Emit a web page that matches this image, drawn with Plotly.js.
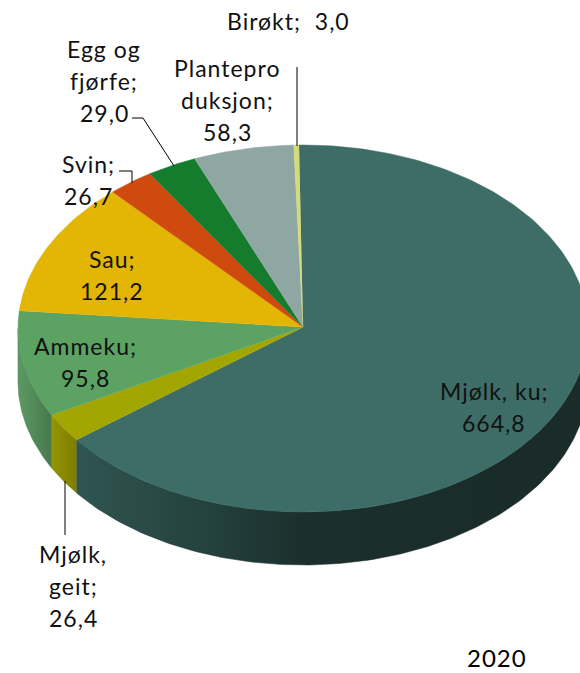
<!DOCTYPE html>
<html>
<head>
<meta charset="utf-8">
<script src="https://cdn.plot.ly/plotly-3.0.1.min.js"></script>
<style>
    html, body { margin: 0; padding: 0; background: #fff; }
    text.annotation-text { letter-spacing: 1px; }
</style>
</head>
<body>
<div id="tester"></div>
<script>
// verdier i samme rekkefolge som sektorene, med klokka fra kl. 12
let categories = ['Mjølk, ku', 'Mjølk, geit', 'Ammeku', 'Sau', 'Svin', 'Egg og fjørfe', 'Planteproduksjon', 'Birøkt'];
let values = [664.8, 26.4, 95.8, 121.2, 26.7, 29.0, 58.3, 3.0];
let topColors = ['#3d6d66', '#a3a600', '#5ba263', '#e3b505', '#cf4a0e', '#147c2c', '#8fa7a2', '#d4d97a'];

// sideflaten, bare de tre sektorene som vender mot oss
let wallScales = {
    'Mjølk, ku': [[0, '#305552'], [0.25, '#24423e'], [0.45, '#1b2f2c'], [1, '#1a2b28']],
    'Mjølk, geit': [[0, '#959500'], [1, '#7d7d00']],
    'Ammeku': [[0, '#5c9a64'], [1, '#47784e']]
};

let labelLines = [
    ['Birøkt;  3,0'],
    ['Egg og', 'fjørfe;', '29,0'],
    ['Plantepro', 'duksjon;', '58,3'],
    ['Svin;', '26,7'],
    ['Sau;', '121,2'],
    ['Ammeku;', '95,8'],
    ['Mjølk, ku;', '664,8'],
    ['Mjølk,', 'geit;', '26,4']
];
let labelX = [288, 104, 227, 88, 112, 85, 494, 73];
let labelY = [21, 49, 68, 164, 259, 346, 391, 554];
let lineGap = 32;

let cx = 303, cy = 328.5, apexY = 327, rx = 285, ry = 183.5, depth = 53;
let firstAngle = -0.8;

function point(deg, dy) {
    let a = deg * Math.PI / 180;
    return { x: cx + rx * Math.sin(a), y: cy - ry * Math.cos(a) + dy };
}

function arc(from, to, dy) {
    let pts = [];
    let n = Math.max(2, Math.ceil(Math.abs(to - from)));
    for (let i = 0; i <= n; i++) {
        pts.push(point(from + (to - from) * i / n, dy));
    }
    return pts;
}

function polygon(pts, extra) {
    let trace = {
        x: pts.map(p => p.x),
        y: pts.map(p => p.y),
        type: 'scatter',
        mode: 'lines',
        fill: 'toself',
        hoverinfo: 'skip',
        showlegend: false
    };
    return Object.assign(trace, extra);
}

let total = values.reduce((a, b) => a + b, 0);
let walls = [];
let tops = [];
let start = firstAngle;

for (let i = 0; i < values.length; i++) {
    let end = start + values[i] / total * 360;

    // sideflate bare mellom 90 og 270 grader
    let from = Math.max(start, 90);
    let to = Math.min(end, 270);
    if (to > from && wallScales[categories[i]]) {
        let upper = arc(from, to, 0);
        let lower = arc(to, from, depth);
        let scale = wallScales[categories[i]];
        walls.push(polygon(upper.concat(lower), {
            line: { width: 0.5, color: scale[scale.length - 1][1] },
            fillcolor: scale[0][1],
            fillgradient: { type: 'horizontal', colorscale: scale }
        }));
    }

    let slice = [{ x: cx, y: apexY }].concat(arc(start, end, 0));
    tops.push(polygon(slice, {
        name: categories[i],
        line: { width: 0.5, color: topColors[i] },
        fillcolor: topColors[i]
    }));

    start = end;
}

let annotations = [];
for (let i = 0; i < labelLines.length; i++) {
    for (let j = 0; j < labelLines[i].length; j++) {
        annotations.push({
            x: labelX[i],
            y: labelY[i] + j * lineGap,
            text: labelLines[i][j],
            showarrow: false,
            xanchor: 'center',
            yanchor: 'middle'
        });
    }
}
annotations.push({
    x: 497, y: 657, text: '2020', showarrow: false,
    xanchor: 'center', yanchor: 'middle', borderpad: 0, borderwidth: 0,
    font: { size: 24, color: '#000' }
});

function leader(path) {
    return { type: 'path', path: path, line: { color: '#000', width: 1 } };
}

let layout = {
    width: 580,
    height: 673,
    margin: { l: 0, r: 0, t: 0, b: 0 },
    paper_bgcolor: '#fff',
    plot_bgcolor: '#fff',
    font: { family: 'Lato, "Open Sans", sans-serif', size: 23, color: '#111' },
    showlegend: false,
    xaxis: { range: [0, 580], visible: false, fixedrange: true },
    yaxis: { range: [673, 0], visible: false, fixedrange: true },
    annotations: annotations,
    shapes: [
        leader('M 297 67 L 297 146'),
        leader('M 132 118 L 143 118 L 174 166'),
        leader('M 119 171 L 132 171 L 132 183'),
        leader('M 65 481 L 65 535')
    ]
};

Plotly.newPlot('tester', walls.concat(tops), layout, { displayModeBar: false });
</script>
</body>
</html>
